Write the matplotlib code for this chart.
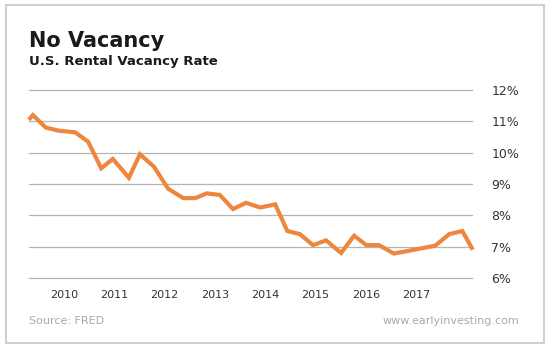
import matplotlib
matplotlib.use("Agg")
import matplotlib.pyplot as plt
from matplotlib.patches import Rectangle

# 空室率データ
years = [2009.30, 2009.38, 2009.64, 2009.90, 2010.22, 2010.48, 2010.74, 2010.97,
         2011.29, 2011.51, 2011.79, 2012.07, 2012.37, 2012.61, 2012.84, 2013.10,
         2013.36, 2013.62, 2013.90, 2014.20, 2014.44, 2014.69, 2014.95, 2015.21,
         2015.51, 2015.77, 2016.01, 2016.26, 2016.56, 2017.38, 2017.66, 2017.92,
         2018.13]
rate = [11.05, 11.2, 10.8, 10.7, 10.65, 10.35, 9.5, 9.8,
        9.2, 9.95, 9.55, 8.85, 8.55, 8.55, 8.7, 8.65,
        8.2, 8.4, 8.25, 8.35, 7.5, 7.4, 7.05, 7.2,
        6.8, 7.35, 7.05, 7.05, 6.78, 7.03, 7.4, 7.5,
        6.9]
year_ticks = [2010, 2011, 2012, 2013, 2014, 2015, 2016, 2017]
pct_ticks = [6, 7, 8, 9, 10, 11, 12]

W, H = 550, 351
fig = plt.figure(figsize=(W / 100, H / 100), dpi=100)
fig.patch.set_facecolor("white")

# 外枠
fig.patches.append(Rectangle((6 / W, 1 - 343 / H), 538 / W, 338 / H,
                             transform=fig.transFigure, fill=False,
                             edgecolor="#cfcfcf", linewidth=1.5))

ax = fig.add_axes([29 / W, 1 - 278 / H, (472 - 29) / W, (278 - 90) / H])
ax.set_facecolor("none")
ax.plot(years, rate, color="#EE8640", linewidth=3, clip_on=False,
        solid_joinstyle="miter", solid_capstyle="butt")

ax.set_xlim(2009.304, 2018.113)
ax.set_ylim(6, 12)
ax.set_yticks(pct_ticks)
ax.set_yticklabels([f"{v}%" for v in pct_ticks])
ax.set_xticks(year_ticks)
ax.set_xticklabels([str(y) for y in year_ticks])
ax.yaxis.tick_right()
ax.tick_params(axis="y", length=0, pad=14, labelsize=9, labelcolor="#333333")
ax.tick_params(axis="x", length=0, pad=9, labelsize=8, labelcolor="#333333")
ax.grid(axis="y", color="#b5b5b5", linewidth=0.9)
for gl in ax.get_ygridlines():
    gl.set_clip_on(False)
ax.set_axisbelow(True)
for s in ax.spines.values():
    s.set_visible(False)

# タイトル
fig.text(29 / W, 1 - 47 / H, "No Vacancy", fontsize=15, fontweight="bold",
         color="#1a1a1a", va="baseline")
fig.text(29 / W, 1 - 65 / H, "U.S. Rental Vacancy Rate", fontsize=9.5,
         fontweight="bold", color="#1a1a1a", va="baseline")

# 出典
fig.text(29 / W, 1 - 321 / H, "Source: FRED", fontsize=8, color="#aaaaaa", va="center")
fig.text(519 / W, 1 - 321 / H, "www.earlyinvesting.com", fontsize=8,
         color="#aaaaaa", va="center", ha="right")

fig.savefig("out.png", dpi=100)
